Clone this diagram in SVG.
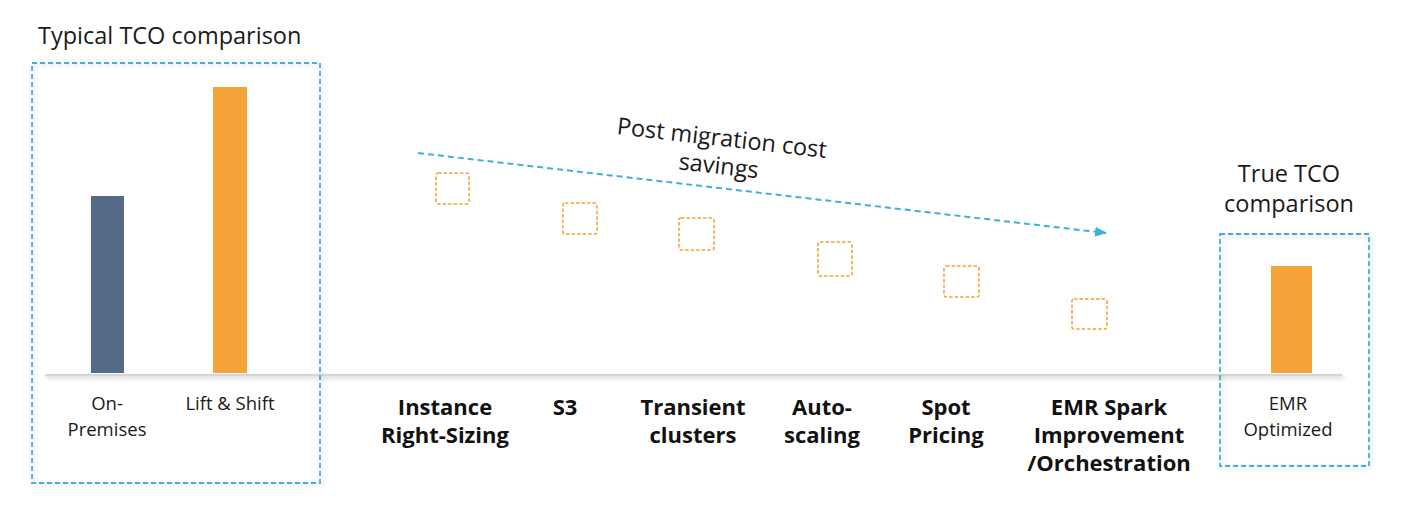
<svg xmlns="http://www.w3.org/2000/svg" width="1420" height="508" viewBox="0 0 1420 508">
<style>
  .t { font-family: "Open Sans", "Liberation Sans", sans-serif; fill: #1a1a1a; }
  .reg { font-size: 18.5px; text-anchor: middle; }
  .big { font-size: 23.5px; }
  .bold { font-size: 22px; font-weight: bold; text-anchor: middle; fill: #111; }
  .frame { fill: none; stroke: #3fb1d9; stroke-width: 1.8; stroke-dasharray: 5 3; }
  .step { fill: none; stroke: #f4a338; stroke-width: 1.6; stroke-dasharray: 3.5 2; }
</style>
<defs>
  <filter id="sh" filterUnits="userSpaceOnUse" x="0" y="0" width="1420" height="508">
    <feDropShadow dx="2" dy="2" stdDeviation="2" flood-color="#000" flood-opacity="0.18"/>
  </filter>
  <marker id="ah" viewBox="0 0 12 10" refX="11" refY="5" markerWidth="12" markerHeight="10" markerUnits="userSpaceOnUse" orient="auto">
    <path d="M0,0 L12,5 L0,10 Z" fill="#3fb1d9"/>
  </marker>
</defs>

<g id="baseline">
  <rect x="45" y="374" width="1297" height="2.5" fill="#d6d6d6" filter="url(#sh)"/>
</g>

<g id="typical-tco">
  <text class="t big" x="38" y="44">Typical TCO comparison</text>
  <rect class="frame" x="32" y="63" width="288" height="420" filter="url(#sh)"/>
</g>

<g id="on-premises">
  <rect x="91" y="196" width="33" height="177" fill="#556a87"/>
  <text class="t reg" x="107" y="410">On-</text>
  <text class="t reg" x="107" y="435.5">Premises</text>
</g>

<g id="lift-shift">
  <rect x="213" y="87" width="34" height="286" fill="#f4a338"/>
  <text class="t reg" x="230" y="410">Lift &amp; Shift</text>
</g>

<g id="connectors">
  <line x1="418" y1="153" x2="1106" y2="233" stroke="#3fb1d9" stroke-width="2" stroke-dasharray="6 4" marker-end="url(#ah)"/>
</g>

<g id="savings-label" transform="rotate(6.5 721 146)">
  <text class="t big" x="721" y="146" text-anchor="middle">Post migration cost</text>
  <text class="t big" x="721" y="174" text-anchor="middle">savings</text>
</g>

<g id="instance-right-sizing">
  <rect class="step" x="436" y="173" width="33" height="31" rx="2"/>
  <text class="t bold" x="445" y="415">Instance</text>
  <text class="t bold" x="445" y="443">Right-Sizing</text>
</g>

<g id="s3">
  <rect class="step" x="563" y="203" width="34" height="31" rx="2"/>
  <text class="t bold" x="565" y="415">S3</text>
</g>

<g id="transient-clusters">
  <rect class="step" x="679" y="218" width="35" height="32" rx="2"/>
  <text class="t bold" x="693" y="415">Transient</text>
  <text class="t bold" x="693" y="443">clusters</text>
</g>

<g id="auto-scaling">
  <rect class="step" x="818" y="242" width="34" height="34" rx="2"/>
  <text class="t bold" x="822" y="415">Auto-</text>
  <text class="t bold" x="822" y="443">scaling</text>
</g>

<g id="spot-pricing">
  <rect class="step" x="944" y="266" width="35" height="31" rx="2"/>
  <text class="t bold" x="946" y="415">Spot</text>
  <text class="t bold" x="946" y="443">Pricing</text>
</g>

<g id="emr-spark">
  <rect class="step" x="1072" y="299" width="35" height="30" rx="2"/>
  <text class="t bold" x="1109" y="415">EMR Spark</text>
  <text class="t bold" x="1109" y="443">Improvement</text>
  <text class="t bold" x="1109" y="471">/Orchestration</text>
</g>

<g id="true-tco">
  <text class="t big" x="1289" y="182" text-anchor="middle">True TCO</text>
  <text class="t big" x="1289" y="212" text-anchor="middle">comparison</text>
  <rect class="frame" x="1220" y="234" width="149" height="232" filter="url(#sh)"/>
</g>

<g id="emr-optimized">
  <rect x="1271" y="266" width="41" height="107" fill="#f4a338"/>
  <text class="t reg" x="1288" y="410">EMR</text>
  <text class="t reg" x="1288" y="435.5">Optimized</text>
</g>
</svg>
